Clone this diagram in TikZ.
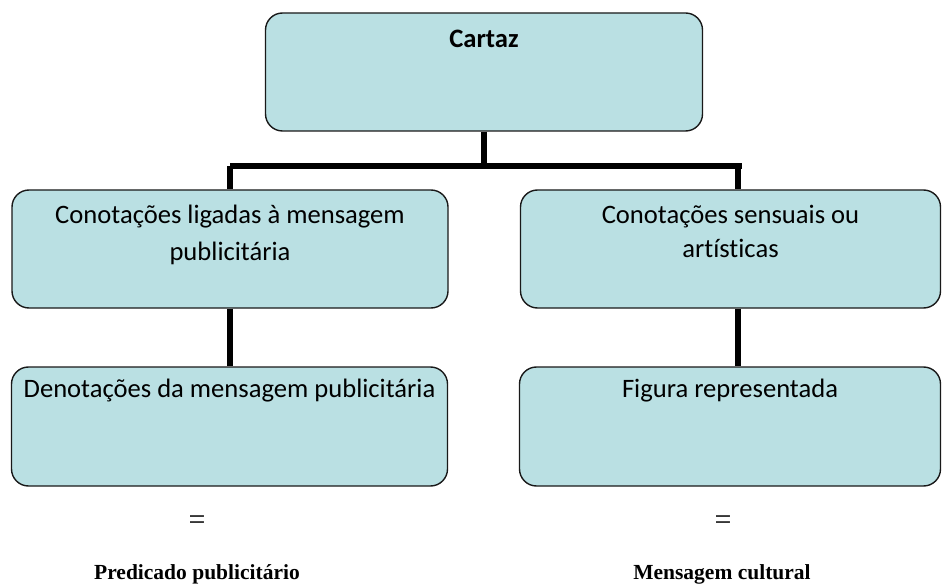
\documentclass[tikz,border=0pt]{standalone}
\usepackage{fontspec}
\setmainfont{Carlito}[Ligatures=NoCommon]
\newfontfamily\timesfont{Liberation Serif}
\definecolor{boxfill}{RGB}{186,224,227}
\definecolor{boxline}{RGB}{25,25,25}
\begin{document}
\begin{tikzpicture}[x=1pt,y=-1pt,
  box/.style={draw=boxline,line width=1.4pt,fill=boxfill,rounded corners=17pt,inner sep=0pt},
  boxtext/.style={font=\fontsize{26.6}{37}\selectfont,align=center,inner sep=0pt,anchor=base},
  conn/.style={line width=6pt},
  eqs/.style={font=\timesfont\fontsize{30}{32}\selectfont,inner sep=0pt},
  lbl/.style={font=\timesfont\bfseries\fontsize{21.5}{24}\selectfont,inner sep=0pt,anchor=base}]
\useasboundingbox (0,0) rectangle (942,585);
% boxes
\node[box,minimum width=437pt,minimum height=118pt] (top) at (484,72) {};
\node[box,minimum width=436pt,minimum height=118pt] (ml) at (230,249) {};
\node[box,minimum width=420pt,minimum height=118pt] (mr) at (730.5,249) {};
\node[box,minimum width=436pt,minimum height=119pt] (bl) at (229.5,426.5) {};
\node[box,minimum width=421pt,minimum height=119pt] (br) at (730,426.5) {};
% texts (base anchor = baseline of the last line)
\node[boxtext,font=\bfseries\fontsize{26.6}{30}\selectfont] (ttop) at (484,48) {Cartaz};
\node[boxtext] (tml) at (230,261) {Conotações ligadas à mensagem\\publicitária};
\node[boxtext,font=\fontsize{26.6}{34}\selectfont] (tmr) at (730.5,258) {Conotações sensuais ou\\artísticas};
\node[boxtext] (tbl) at (229.5,397) {Denotações da mensagem publicitária};
\node[boxtext] (tbr) at (730,397) {Figura representada};
% connectors
\coordinate (bar) at (484,166);
\coordinate (jl) at (230,166);
\coordinate (jr) at (738,166);
\coordinate (barend) at (742,166);
\draw[conn] (top.south) -- (bar);
\draw[conn] (jl) -- (barend);
\draw[conn] (jl) -- (jl |- ml.north);
\draw[conn] (jr) -- (jr |- mr.north);
\draw[conn] (ml.south) -- (ml.south |- bl.north);
\draw[conn] ([xshift=7.5pt]mr.south) -- ([xshift=7.5pt]mr.south |- br.north);
% equals and labels
\node[eqs] (eql) at (197,523) {=};
\node[eqs] (eqr) at (723,523) {=};
\node[lbl] (pl) at (197,579) {Predicado publicitário};
\node[lbl] (pr) at (722,579) {Mensagem cultural};
\end{tikzpicture}
\end{document}
